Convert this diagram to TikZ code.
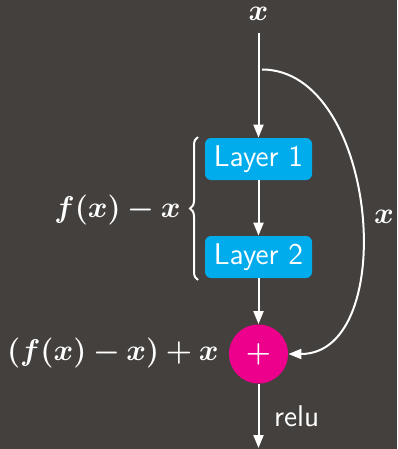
\documentclass[tikz,border=0pt]{standalone}
\usepackage{amsmath}
\usepackage{bm}
\usepackage{graphicx}
\usepackage{xcolor}
\usetikzlibrary{arrows.meta,positioning,calc,decorations.pathreplacing}
\definecolor{bgdark}{RGB}{68,64,61}
\definecolor{layercyan}{RGB}{0,172,236}
\definecolor{summagenta}{RGB}{236,0,140}
\newcommand{\bmath}[1]{\scalebox{1.04}{$\bm{#1}$}}
\tikzset{
  layer/.style={fill=layercyan, rounded corners=3pt, minimum height=21pt, minimum width=53.5pt,
                inner sep=2pt, text=white, font=\sffamily\fontsize{15}{17}\selectfont},
  sum/.style={circle, fill=summagenta, minimum size=29.5pt, inner sep=0pt, text=white,
              font=\fontsize{14}{16}\selectfont},
  lbl/.style={text=white, inner sep=0pt, font=\fontsize{15}{18}\selectfont},
  edge/.style={-{Triangle[length=6.5pt,width=5pt]}, draw=white, line width=1pt}
}
\begin{document}
\begin{tikzpicture}[x=0.5pt, y=-0.5pt]
  \fill[bgdark] (0,0) rectangle (397,449);
  \useasboundingbox (0,0) rectangle (397,449);

  \node[lbl] (xin) at (258.5,14) {\bmath{x}};
  \node[layer] (l1) at (258.5,159) {Layer 1};
  \node[layer] (l2) at (258.5,257) {Layer 2};
  \node[sum] (sumnode) at (258.5,354) {$\bm{+}$};
  \coordinate (out) at (258.5,448);
  \coordinate (skipstart) at (262,69.5);

  \node[lbl, anchor=east] (flabel) at (181,210) {\bmath{f(x) - x}};
  \node[lbl, anchor=east] (sumlabel) at (219,353) {\bmath{(f(x) - x) + x}};
  \node[lbl] (skiplabel) at (384,217) {\bmath{x}};

  \draw[edge] ($(xin.south)+(0,12)$) -- (l1);
  \draw[edge] (l1) -- (l2);
  \draw[edge] (l2) -- (sumnode);
  \draw[edge] (sumnode) -- node[right=4pt, text=white, font=\sffamily\fontsize{15}{17}\selectfont] (relu) {relu} (out);
  \draw[edge] (skipstart) .. controls +(116,0) and +(112,0) .. (sumnode.east);

  \draw[white, line width=1pt, decorate, decoration={brace, amplitude=4pt}]
    (198,280) -- (198,137);
\end{tikzpicture}
\end{document}
